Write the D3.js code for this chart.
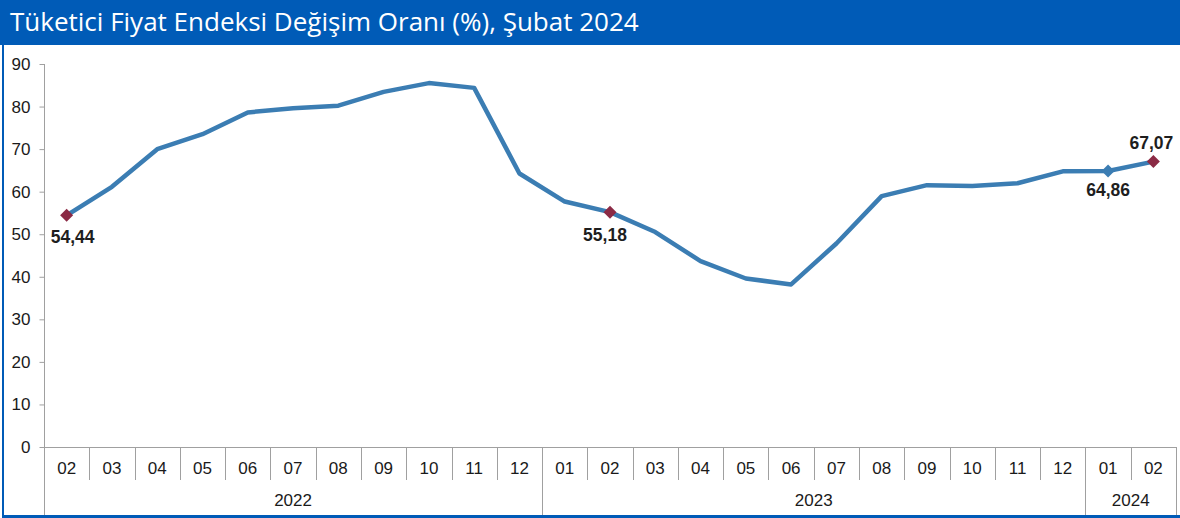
<!DOCTYPE html>
<html>
<head>
<meta charset="utf-8">
<script src="https://cdn.jsdelivr.net/npm/d3@7"></script>
<style>
  body { margin: 0; background: #fff; }
  svg { display: block; }
</style>
</head>
<body>
<svg id="chart"></svg>
<script>
const width = 1180;
const height = 518;
const margin = { top: 64, left: 44, bottom: 71, right: 4 };
const title = "Tüketici Fiyat Endeksi Değişim Oranı (%), Şubat 2024";

// data
const months = ["02", "03", "04", "05", "06", "07", "08", "09", "10", "11", "12",
                "01", "02", "03", "04", "05", "06", "07", "08", "09", "10", "11", "12",
                "01", "02"];
const yearLabels = ["2022", "2023", "2024"];
const yearCounts = [11, 12, 2];
const values = [54.44, 61.14, 69.97, 73.50, 78.62, 79.60, 80.21, 83.45, 85.51, 84.39, 64.27,
                57.68, 55.18, 50.51, 43.68, 39.59, 38.21, 47.83, 58.94, 61.53, 61.36, 61.98, 64.77,
                64.86, 67.07];
const yTicks = [0, 10, 20, 30, 40, 50, 60, 70, 80, 90];
const markedPoints = [0, 12, 23, 24];
const markedLabels = ["54,44", "55,18", "64,86", "67,07"];

const blueBar = "#005bb7";
const lineColor = "#3b7db3";
const markRed = "#8b2a45";
const axisColor = "#a0a0a0";
const textColor = "#1a1a1a";
const axisFont = "'Liberation Sans', Arial, sans-serif";

const svg = d3.select("#chart")
  .attr("width", width)
  .attr("height", height);

// header bar
svg.append("rect")
  .attr("x", 0).attr("y", 0)
  .attr("width", width).attr("height", 45)
  .attr("fill", blueBar);

svg.append("text")
  .attr("x", 10)
  .attr("y", 31)
  .attr("fill", "#fff")
  .style("font-family", "'Open Sans', 'Noto Sans', sans-serif")
  .style("font-size", "26px")
  .text(title);

// frame left + bottom
svg.append("rect").attr("x", 2).attr("y", 45).attr("width", 2).attr("height", height - 45).attr("fill", blueBar);
svg.append("rect").attr("x", 2).attr("y", height - 3).attr("width", width - 2).attr("height", 3).attr("fill", blueBar);

const x0 = margin.left;
const x1 = 1176;
const yZero = 447;

//scales
const xScale = d3.scaleBand()
  .domain(d3.range(values.length))
  .range([x0, x1])
  .paddingInner(0).paddingOuter(0);

const yScale = d3.scaleLinear()
  .domain([0, 90])
  .range([yZero, margin.top]);

// y axis
const yAxis = d3.axisLeft(yScale)
  .tickValues(yTicks)
  .tickSize(5)
  .tickSizeOuter(0)
  .tickPadding(9);

const gy = svg.append("g")
  .attr("transform", `translate(${x0 + 0.5},0)`)
  .call(yAxis);
gy.select(".domain").attr("stroke", axisColor).attr("d", `M0,${yScale(90)}V${height - 3}`);
gy.selectAll(".tick line").attr("stroke", axisColor);
gy.selectAll(".tick text")
  .attr("fill", textColor)
  .style("font-family", axisFont)
  .style("font-size", "17px");

// x axis (month labels)
const xAxis = d3.axisBottom(xScale)
  .tickFormat(i => months[i])
  .tickSize(0)
  .tickPadding(14);

const gx = svg.append("g")
  .attr("transform", `translate(0,${yZero + 0.5})`)
  .call(xAxis);
gx.select(".domain").attr("stroke", axisColor).attr("d", `M${x0},0H${x1}`);
gx.selectAll(".tick text")
  .attr("fill", textColor)
  .style("font-family", axisFont)
  .style("font-size", "17px");

// separators between months
const seps = svg.append("g").attr("stroke", axisColor).attr("stroke-width", 1);
d3.range(1, values.length).forEach(i => {
  const xx = Math.round(xScale(i)) + 0.5;
  seps.append("line")
    .attr("x1", xx).attr("x2", xx)
    .attr("y1", yZero).attr("y2", yZero + 33);
});

// year groups
let start = 0;
const yearsG = svg.append("g");
yearLabels.forEach((yr, k) => {
  const end = start + yearCounts[k];
  const left = xScale(start);
  const right = end < values.length ? xScale(end) : x1;
  const xx = Math.round(right) + 0.5;
  yearsG.append("line")
    .attr("x1", xx).attr("x2", xx)
    .attr("y1", yZero).attr("y2", height - 3)
    .attr("stroke", axisColor);
  yearsG.append("text")
    .attr("x", (left + right) / 2)
    .attr("y", 506)
    .attr("text-anchor", "middle")
    .attr("fill", textColor)
    .style("font-family", axisFont)
    .style("font-size", "17px")
    .text(yr);
  start = end;
});

// line
const line = d3.line()
  .x((d, i) => xScale(i) + xScale.bandwidth() / 2)
  .y(d => yScale(d));

svg.append("path")
  .datum(values)
  .attr("fill", "none")
  .attr("stroke", lineColor)
  .attr("stroke-width", 4.5)
  .attr("stroke-linejoin", "round")
  .attr("d", line);

// markers
const diamond = d3.symbol().type(d3.symbolSquare).size(85);
const labelOffsets = [[6, 28], [-5, 29], [0, 25], [-2, -13]];
markedPoints.forEach((i, k) => {
  const cx = xScale(i) + xScale.bandwidth() / 2;
  const cy = yScale(values[i]);
  svg.append("path")
    .attr("d", diamond)
    .attr("transform", `translate(${cx},${cy}) rotate(45)`)
    .attr("fill", i === 23 ? lineColor : markRed);
  svg.append("text")
    .attr("x", cx + labelOffsets[k][0])
    .attr("y", cy + labelOffsets[k][1])
    .attr("text-anchor", "middle")
    .attr("fill", "#1e1e1e")
    .style("font-family", axisFont)
    .style("font-size", "17.5px")
    .style("font-weight", "bold")
    .text(markedLabels[k]);
});
</script>
</body>
</html>
